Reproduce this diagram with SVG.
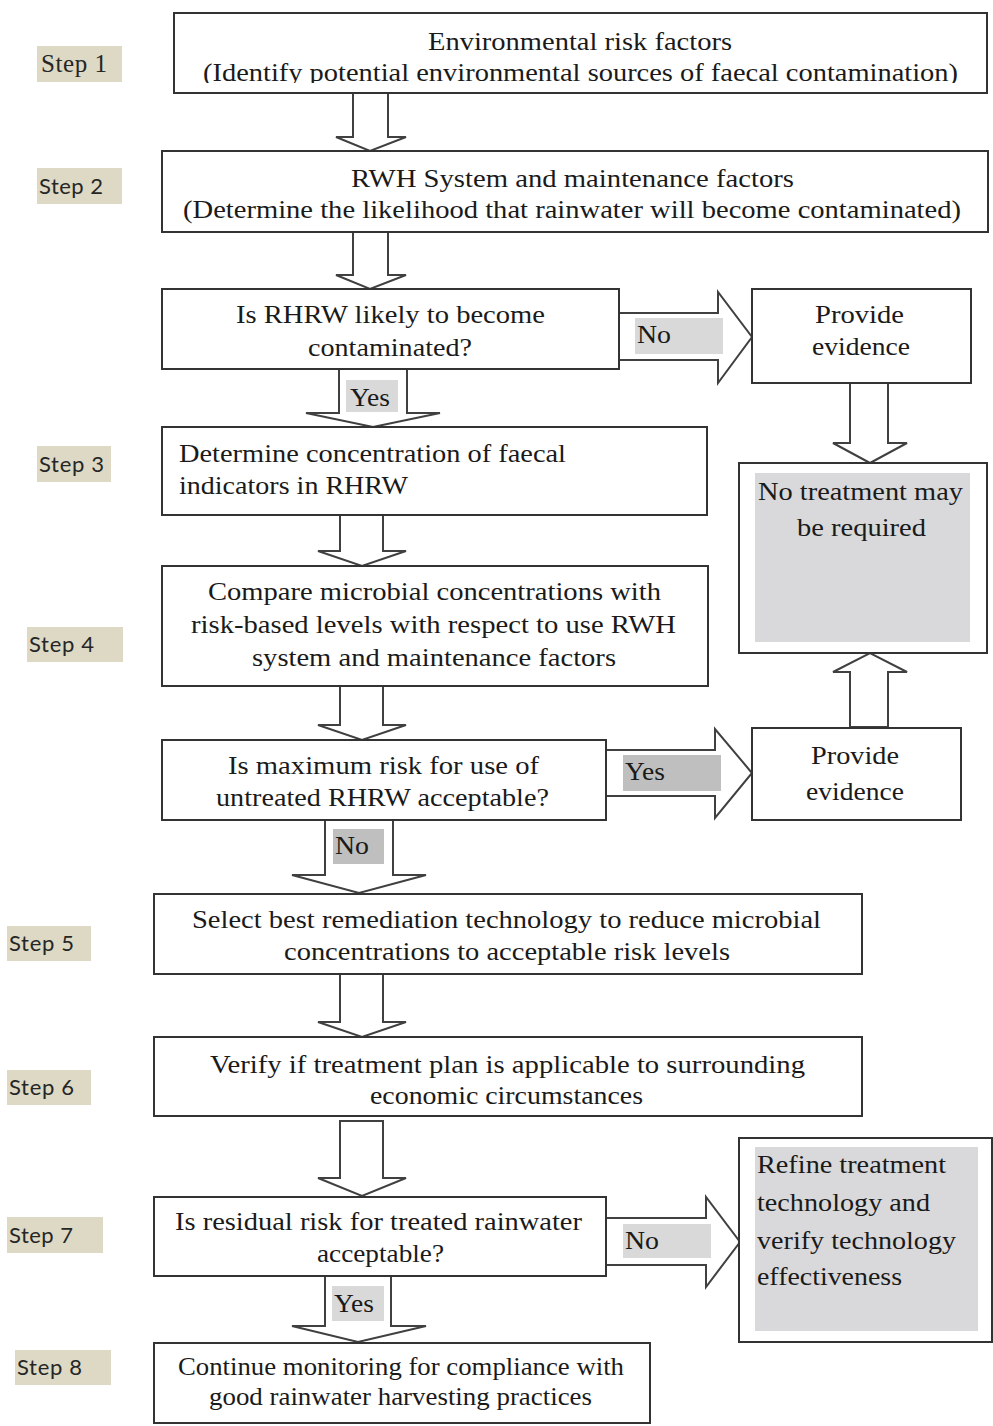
<svg xmlns="http://www.w3.org/2000/svg" width="993" height="1426" viewBox="0 0 993 1426">
<style>
.box{fill:#fff;stroke:#333;stroke-width:2}
.arr{fill:#fff;stroke:#404040;stroke-width:2;stroke-linejoin:miter}
.t{font-family:"Liberation Serif","Times New Roman",serif;font-size:26px;fill:#1a1a1a}
.lbl{fill:#d9d9d9}
.lbl2{fill:#bfbfbf}
.step{fill:#ddd9c4}
.st{font-family:Lato,"Open Sans",sans-serif;font-size:22px;fill:#262626}
.sts{font-family:"Liberation Serif",serif;font-size:25px;fill:#262626}
.gray{fill:#d9d9db}
</style>
<defs>
<clipPath id="clip1"><rect x="174" y="13" width="813" height="70"/></clipPath>
</defs>
<rect width="993" height="1426" fill="#fff"/>

<g id="connectors">
<polygon class="arr" points="353,93 388,93 388,137 406,137 370,151 336,137 353,137"/>
<polygon class="arr" points="353,232 388,232 388,275 406,275 370,289 336,275 353,275"/>
<polygon class="arr" points="339,369 407,369 407,413 440,413 373,427 306,413 339,413"/>
<polygon class="arr" points="340,515 383,515 383,551 406,551 362,566 318,551 340,551"/>
<polygon class="arr" points="340,686 383,686 383,725 406,725 362,740 318,725 340,725"/>
<polygon class="arr" points="325,820 393,820 393,875 426,875 359,893 292,875 325,875"/>
<polygon class="arr" points="340,974 383,974 383,1022 406,1022 362,1037 318,1022 340,1022"/>
<polygon class="arr" points="340,1121 383,1121 383,1178 406,1178 362,1196 318,1178 340,1178"/>
<polygon class="arr" points="325,1276 391,1276 391,1326 426,1326 358,1342 292,1326 325,1326"/>
<polygon class="arr" points="850,383 888,383 888,443 907,443 870,463 833,443 850,443"/>
<polygon class="arr" points="850,727 888,727 888,672 907,672 870,653 833,672 850,672"/>
<polygon class="arr" points="619,313 718,313 718,292 752,337 718,383 718,360 619,360"/>
<polygon class="arr" points="606,750 715,750 715,729 752,773 715,818 715,796 606,796"/>
<polygon class="arr" points="606,1218 706,1218 706,1197 740,1242 706,1287 706,1265 606,1265"/>
<rect class="lbl" x="346" y="380" width="52" height="32"/>
<text class="t" x="350" y="406" textLength="40" lengthAdjust="spacingAndGlyphs">Yes</text>
<rect class="lbl" x="635" y="318" width="88" height="36"/>
<text class="t" x="637" y="343" textLength="34" lengthAdjust="spacingAndGlyphs">No</text>
<rect class="lbl2" x="623" y="755" width="98" height="36"/>
<text class="t" x="625" y="780" textLength="40" lengthAdjust="spacingAndGlyphs">Yes</text>
<rect class="lbl2" x="333" y="829" width="51" height="35"/>
<text class="t" x="335" y="854" textLength="34" lengthAdjust="spacingAndGlyphs">No</text>
<rect class="lbl" x="332" y="1286" width="52" height="35"/>
<text class="t" x="334" y="1312" textLength="40" lengthAdjust="spacingAndGlyphs">Yes</text>
<rect class="lbl" x="623" y="1224" width="88" height="34"/>
<text class="t" x="625" y="1249" textLength="34" lengthAdjust="spacingAndGlyphs">No</text>
</g>

<g id="steps">
<rect class="step" x="37" y="46" width="85" height="36"/>
<text class="sts" x="41" y="72" textLength="66">Step 1</text>
<rect class="step" x="37" y="168" width="85" height="36"/>
<text class="st" x="39" y="194" textLength="64">Step 2</text>
<rect class="step" x="37" y="446" width="74" height="36"/>
<text class="st" x="39" y="472" textLength="65">Step 3</text>
<rect class="step" x="27" y="627" width="96" height="35"/>
<text class="st" x="29" y="652" textLength="65">Step 4</text>
<rect class="step" x="7" y="926" width="84" height="35"/>
<text class="st" x="9" y="951" textLength="65">Step 5</text>
<rect class="step" x="7" y="1070" width="84" height="35"/>
<text class="st" x="9" y="1095" textLength="65">Step 6</text>
<rect class="step" x="7" y="1217" width="96" height="36"/>
<text class="st" x="9" y="1243" textLength="64">Step 7</text>
<rect class="step" x="15" y="1350" width="96" height="35"/>
<text class="st" x="17" y="1375" textLength="65">Step 8</text>
</g>

<g id="n1">
<rect class="box" x="174" y="13" width="813" height="80"/>
<text class="t" x="428" y="50" textLength="304" lengthAdjust="spacingAndGlyphs">Environmental risk factors</text>
<text class="t" x="203" y="81" textLength="755" lengthAdjust="spacingAndGlyphs" clip-path="url(#clip1)">(Identify potential environmental sources of faecal contamination)</text>
</g>
<g id="n2">
<rect class="box" x="162" y="151" width="826" height="81"/>
<text class="t" x="351" y="187" textLength="443" lengthAdjust="spacingAndGlyphs">RWH System and maintenance factors</text>
<text class="t" x="183" y="218" textLength="778" lengthAdjust="spacingAndGlyphs">(Determine the likelihood that rainwater will become contaminated)</text>
</g>
<g id="n3">
<rect class="box" x="162" y="289" width="457" height="80"/>
<text class="t" x="236" y="323" textLength="309" lengthAdjust="spacingAndGlyphs">Is RHRW likely to become</text>
<text class="t" x="308" y="356" textLength="164" lengthAdjust="spacingAndGlyphs">contaminated?</text>
</g>
<g id="n4">
<rect class="box" x="162" y="427" width="545" height="88"/>
<text class="t" x="179" y="462" textLength="387" lengthAdjust="spacingAndGlyphs">Determine concentration of faecal</text>
<text class="t" x="179" y="494" textLength="229" lengthAdjust="spacingAndGlyphs">indicators in RHRW</text>
</g>
<g id="n5">
<rect class="box" x="162" y="566" width="546" height="120"/>
<text class="t" x="208" y="600" textLength="453" lengthAdjust="spacingAndGlyphs">Compare microbial concentrations with</text>
<text class="t" x="191" y="633" textLength="485" lengthAdjust="spacingAndGlyphs">risk-based levels with respect to use RWH</text>
<text class="t" x="252" y="666" textLength="364" lengthAdjust="spacingAndGlyphs">system and maintenance factors</text>
</g>
<g id="n6">
<rect class="box" x="162" y="740" width="444" height="80"/>
<text class="t" x="228" y="774" textLength="311" lengthAdjust="spacingAndGlyphs">Is maximum risk for use of</text>
<text class="t" x="216" y="806" textLength="333" lengthAdjust="spacingAndGlyphs">untreated RHRW acceptable?</text>
</g>
<g id="n7">
<rect class="box" x="154" y="894" width="708" height="80"/>
<text class="t" x="192" y="928" textLength="629" lengthAdjust="spacingAndGlyphs">Select best remediation technology to reduce microbial</text>
<text class="t" x="284" y="960" textLength="446" lengthAdjust="spacingAndGlyphs">concentrations to acceptable risk levels</text>
</g>
<g id="n8">
<rect class="box" x="154" y="1037" width="708" height="79"/>
<text class="t" x="210" y="1073" textLength="595" lengthAdjust="spacingAndGlyphs">Verify if treatment plan is applicable to surrounding</text>
<text class="t" x="370" y="1104" textLength="273" lengthAdjust="spacingAndGlyphs">economic circumstances</text>
</g>
<g id="n9">
<rect class="box" x="154" y="1197" width="452" height="79"/>
<text class="t" x="175" y="1230" textLength="407" lengthAdjust="spacingAndGlyphs">Is residual risk for treated rainwater</text>
<text class="t" x="317" y="1262" textLength="127" lengthAdjust="spacingAndGlyphs">acceptable?</text>
</g>
<g id="n10">
<rect class="box" x="154" y="1343" width="496" height="80"/>
<text class="t" x="178" y="1375" textLength="446" lengthAdjust="spacingAndGlyphs">Continue monitoring for compliance with</text>
<text class="t" x="209" y="1405" textLength="383" lengthAdjust="spacingAndGlyphs">good rainwater harvesting practices</text>
</g>
<g id="pe1">
<rect class="box" x="752" y="289" width="219" height="94"/>
<text class="t" x="815" y="323" textLength="89" lengthAdjust="spacingAndGlyphs">Provide</text>
<text class="t" x="812" y="355" textLength="98" lengthAdjust="spacingAndGlyphs">evidence</text>
</g>
<g id="notreat">
<rect class="box" x="739" y="463" width="248" height="190"/>
<rect class="gray" x="755" y="473" width="215" height="169"/>
<text class="t" x="758" y="500" textLength="205" lengthAdjust="spacingAndGlyphs">No treatment may</text>
<text class="t" x="797" y="536" textLength="129" lengthAdjust="spacingAndGlyphs">be required</text>
</g>
<g id="pe2">
<rect class="box" x="752" y="728" width="209" height="92"/>
<text class="t" x="811" y="764" textLength="88" lengthAdjust="spacingAndGlyphs">Provide</text>
<text class="t" x="806" y="800" textLength="98" lengthAdjust="spacingAndGlyphs">evidence</text>
</g>
<g id="refine">
<rect class="box" x="739" y="1138" width="253" height="204"/>
<rect class="gray" x="755" y="1147" width="223" height="184"/>
<text class="t" x="757" y="1173" textLength="189" lengthAdjust="spacingAndGlyphs">Refine treatment</text>
<text class="t" x="757" y="1211" textLength="173" lengthAdjust="spacingAndGlyphs">technology and</text>
<text class="t" x="757" y="1249" textLength="199" lengthAdjust="spacingAndGlyphs">verify technology</text>
<text class="t" x="757" y="1285" textLength="145" lengthAdjust="spacingAndGlyphs">effectiveness</text>
</g>
</svg>
